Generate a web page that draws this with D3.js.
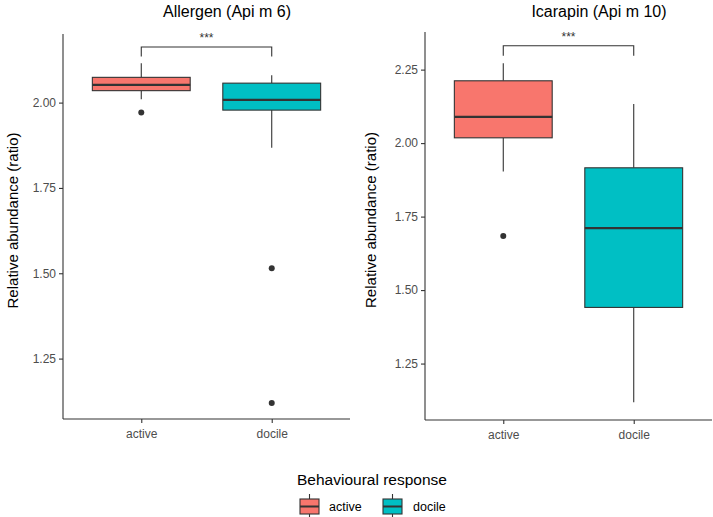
<!DOCTYPE html>
<html><head><meta charset="utf-8">
<script src="https://cdn.jsdelivr.net/npm/d3@7"></script>
<style>body{margin:0;background:#fff}svg{display:block;font-family:"Liberation Sans",Arial,sans-serif}</style>
</head><body><svg id="c" width="713" height="517"></svg>
<script>
const categories = ["active", "docile"];
const colors = ["#F8766D", "#00BFC4"];
const panelTitles = ["Allergen (Api m 6)", "Icarapin (Api m 10)"];
const yTicks = [[1.25, 1.50, 1.75, 2.00], [1.25, 1.50, 1.75, 2.00, 2.25]];
const yDomains = [[1.073, 2.201], [1.058, 2.378]];
// box stats per panel: [active, docile]
const whiskerLow  = [[2.010, 1.868], [1.903, 1.118]];
const q1          = [[2.035, 1.978], [2.018, 1.441]];
const median      = [[2.052, 2.008], [2.089, 1.711]];
const q3          = [[2.074, 2.057], [2.212, 1.916]];
const whiskerHigh = [[2.115, 2.080], [2.272, 2.133]];
const outliers    = [[[1.971], [1.515, 1.120]], [[1.684], []]];
const sigLabel = ["***", "***"];
const bracketY = [[2.163, 2.135], [2.331, 2.297]]; // [bar level, tip level]

const svg = d3.select("#c");
const panels = [
  {x0: 63, x1: 350, y0: 34, y1: 419, labelX: 13, titleX: 227},
  {x0: 425, x1: 712, y0: 32, y1: 420, labelX: 371, titleX: 599}
];

panels.forEach((p, i) => {
  const g = svg.append("g");
  // discrete ggplot: positions at 0.6 and 1.6 units of 2.2
  const xc = d3.scalePoint().domain(categories).range([p.x0 + (p.x1 - p.x0) * 0.6 / 2.2, p.x0 + (p.x1 - p.x0) * 1.6 / 2.2]);
  const unit = (p.x1 - p.x0) / 2.2;
  const bw = 0.75 * unit;
  const y = d3.scaleLinear().domain(yDomains[i]).range([p.y1, p.y0]);

  // axes
  const ya = d3.axisLeft(y).tickValues(yTicks[i]).tickFormat(d3.format(".2f")).tickSizeOuter(0).tickSize(4).tickPadding(3);
  const yg = g.append("g").attr("transform", `translate(${p.x0},0)`).call(ya);
  const xa = d3.axisBottom(xc).tickSizeOuter(0).tickSize(4).tickPadding(6);
  const xg = g.append("g").attr("transform", `translate(0,${p.y1})`).call(xa);
  [yg, xg].forEach(ax => {
    ax.select(".domain").attr("stroke", "#333").attr("stroke-width", 1.1);
    ax.selectAll(".tick line").attr("stroke", "#333").attr("stroke-width", 1.1);
    ax.selectAll(".tick text").attr("fill", "#4d4d4d").style("font-size", "12px").style("font-family", "'Liberation Sans',Arial,sans-serif");
  });
  yg.select(".domain").attr("d", `M0,${p.y0}V${p.y1}`);
  xg.select(".domain").attr("d", `M${p.x0},0H${p.x1}`);

  // boxes
  categories.forEach((c, j) => {
    const cx = xc(c);
    g.append("line").attr("x1", cx).attr("x2", cx).attr("y1", y(q3[i][j])).attr("y2", y(whiskerHigh[i][j]))
      .attr("stroke", "#333").attr("stroke-width", 1.1);
    g.append("line").attr("x1", cx).attr("x2", cx).attr("y1", y(q1[i][j])).attr("y2", y(whiskerLow[i][j]))
      .attr("stroke", "#333").attr("stroke-width", 1.1);
    g.append("rect").attr("x", cx - bw / 2).attr("width", bw)
      .attr("y", y(q3[i][j])).attr("height", y(q1[i][j]) - y(q3[i][j]))
      .attr("fill", colors[j]).attr("stroke", "#333").attr("stroke-width", 1.1);
    g.append("line").attr("x1", cx - bw / 2).attr("x2", cx + bw / 2).attr("y1", y(median[i][j])).attr("y2", y(median[i][j]))
      .attr("stroke", "#333").attr("stroke-width", 2.2);
    outliers[i][j].forEach(v => {
      g.append("circle").attr("cx", cx).attr("cy", y(v)).attr("r", 3).attr("fill", "#333");
    });
  });

  // significance bracket
  const ax = xc("active"), dx = xc("docile");
  g.append("path").attr("d", `M${ax},${y(bracketY[i][1])}V${y(bracketY[i][0])}H${dx}V${y(bracketY[i][1])}`)
    .attr("fill", "none").attr("stroke", "#333").attr("stroke-width", 1.1);
  g.append("text").attr("x", (ax + dx) / 2).attr("y", y(bracketY[i][0]) - 5).attr("text-anchor", "middle")
    .style("font-size", "12px").attr("fill", "#333").text(sigLabel[i]);

  // title
  g.append("text").attr("x", p.titleX).attr("y", 17).attr("text-anchor", "middle")
    .style("font-size", "16px").attr("fill", "#000").text(panelTitles[i]);
  // y label
  g.append("text").attr("transform", `translate(${p.labelX},${(p.y0 + p.y1) / 2 - 6}) rotate(-90)`)
    .attr("text-anchor", "middle").attr("dy", "0.35em").style("font-size", "15px").attr("fill", "#000")
    .text("Relative abundance (ratio)");
});

// legend
const lg = svg.append("g");
lg.append("text").attr("x", 297).attr("y", 485).style("font-size", "15.5px").attr("fill", "#000").text("Behavioural response");
const keyX = [300, 383], labX = [329, 413];
categories.forEach((c, j) => {
  const kx = keyX[j];
  lg.append("line").attr("x1", kx + 9.5).attr("x2", kx + 9.5).attr("y1", 494).attr("y2", 517).attr("stroke", "#333").attr("stroke-width", 1.1);
  lg.append("rect").attr("x", kx).attr("y", 499).attr("width", 19).attr("height", 15).attr("fill", colors[j]).attr("stroke", "#333").attr("stroke-width", 1.1);
  lg.append("line").attr("x1", kx).attr("x2", kx + 19).attr("y1", 506.5).attr("y2", 506.5).attr("stroke", "#333").attr("stroke-width", 2);
  lg.append("text").attr("x", labX[j]).attr("y", 511).style("font-size", "12.5px").attr("fill", "#000").text(c);
});
</script></body></html>
